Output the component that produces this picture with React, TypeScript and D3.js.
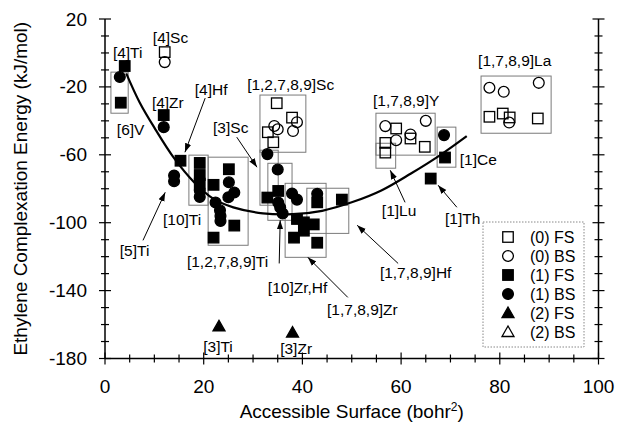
import React from "react";
import * as d3 from "d3";

type P = [number, number];

// (0) FS – open squares
const openSquares: P[] = [
  [12.1, 0.5],
  [34.8, -29.6], [37.9, -38.1], [33, -46.7], [34.1, -52.6],
  [59, -44.5], [61.9, -50.4], [64.8, -55.3], [56.8, -53], [56.8, -58.7],
  [77.9, -37.6], [80.6, -35.7], [87.7, -38.6], [82, -38],
];
// (0) BS – open circles
const openCircles: P[] = [
  [12.1, -5.4],
  [34.3, -43], [35, -45], [38.9, -40.8], [38.1, -46],
  [56.8, -43.1], [65, -40], [59, -51.4], [61.9, -48],
  [77.9, -20.5], [80.8, -22.9], [87.9, -17.6], [81.9, -41],
];
// (1) FS – filled squares
const filledSquares: P[] = [
  [4, -7.7], [3.2, -29.3], [11.9, -36.6], [15.3, -63.5],
  [19.2, -64.8], [19.2, -71.9], [19.2, -77],
  [25.1, -68.5], [22, -77.7], [26.2, -101.7], [22, -108.8],
  [32.9, -85.2], [35.1, -81.3],
  [38.9, -97.8], [40.3, -99.8], [42.3, -101], [40.3, -104.7], [38.3, -108.8], [43, -111.8],
  [43, -88], [48, -86.4],
  [68.9, -61.6], [66, -74],
];
// (1) BS – filled circles
const filledCircles: P[] = [
  [3, -14.2], [11.9, -43.7], [14, -72.2], [14, -75.6],
  [19.2, -80.9], [19.2, -84.8],
  [25.1, -76.2], [26.2, -82.2], [25, -85], [22.4, -88.1], [23.3, -92.7], [23.4, -96], [23.4, -99],
  [32.9, -59.6], [35, -68.7],
  [35.1, -88.1], [36, -94.6], [35.5, -91], [37.9, -82.8], [38.9, -86.4],
  [43, -83], [68.7, -48.4],
];
// (2) FS – filled triangles
const filledTriangles: P[] = [[23.1, -161.1], [38, -164.7]];

// fitted trend line
const trend: P[] = [
  [4.3, -12], [7, -29], [10, -44], [14, -62], [18, -76], [22, -86], [26, -91],
  [32, -94.5], [38, -95], [44, -93], [50, -88], [56, -81], [62, -71], [68, -60], [73.3, -49],
];

// group boxes: [x0, x1, yTop, yBottom]
const boxes: [number, number, number, number][] = [
  [1.2, 4.7, -11.3, -35.5],
  [17, 20.9, -60.2, -89.7],
  [20.9, 29, -61.4, -113.3],
  [31.4, 40.7, -24.8, -58.5],
  [31.4, 35.1, -57.3, -89.7],
  [33, 37.9, -65, -98.6],
  [36.5, 44.8, -76.8, -120.4],
  [40.9, 49.4, -79.7, -106.3],
  [54.9, 66.9, -35.5, -60.2],
  [54.9, 58.9, -53.2, -67.9],
  [67.3, 71.1, -43.7, -67.3],
  [76.2, 90.4, -13.6, -47.3],
];

const labels: { t: string; at: P }[] = [
  { t: "[4]Sc", at: [9.7, 5.8] },
  { t: "[4]Ti", at: [1.6, -3.0] },
  { t: "[6]V", at: [2.4, -48.4] },
  { t: "[4]Zr", at: [9.5, -32.5] },
  { t: "[4]Hf", at: [18.2, -24.8] },
  { t: "[3]Sc", at: [21.9, -47.3] },
  { t: "[1,2,7,8,9]Sc", at: [28.8, -21.9] },
  { t: "[1,7,8,9]Y", at: [54.3, -31.3] },
  { t: "[1,7,8,9]La", at: [75.6, -7.7] },
  { t: "[1]Ce", at: [71.9, -66.1] },
  { t: "[1]Lu", at: [56.1, -96.2] },
  { t: "[1]Th", at: [68.9, -100.9] },
  { t: "[1,7,8,9]Hf", at: [55.7, -132.8] },
  { t: "[1,7,8,9]Zr", at: [45, -154.6] },
  { t: "[10]Zr,Hf", at: [33, -141.7] },
  { t: "[1,2,7,8,9]Ti", at: [16.6, -126.3] },
  { t: "[10]Ti", at: [11.75, -101.5] },
  { t: "[5]Ti", at: [3, -119.8] },
  { t: "[3]Ti", at: [19.9, -175.9] },
  { t: "[3]Zr", at: [35.5, -177.6] },
];

// arrows: [from, to]
const arrows: [P, P][] = [
  [[20.3, -26.6], [16.2, -58.5]],
  [[26.7, -49.6], [30.8, -67.3]],
  [[7.7, -110.4], [12.2, -82.1]],
  [[35.3, -124], [35.5, -98.6]],
  [[49.2, -144], [41.1, -120.4]],
  [[59.4, -124], [51.1, -101.5]],
  [[60.8, -88], [57.8, -69.1]],
  [[71.3, -90.9], [67.5, -77.9]],
];

const legendItems = ["(0) FS", "(0) BS", "(1) FS", "(1) BS", "(2) FS", "(2) BS"];
const xTickLabels = [0, 20, 40, 60, 80, 100];
const yTickLabels = [20, -20, -60, -100, -140, -180];

const W = 619, H = 424;
const FONT = "'Liberation Sans', Arial, Helvetica, sans-serif";

function Marker({ kind, cx, cy }: { kind: number; cx: number; cy: number }) {
  const s = 10.5, r = 5.4;
  const filled = kind === 2 || kind === 3 || kind === 4;
  const fill = filled ? "#000" : "none";
  const sw = 1.3;
  if (kind === 0 || kind === 2)
    return <rect x={cx - s / 2} y={cy - s / 2} width={s} height={s} fill={fill} stroke="#000" strokeWidth={sw} />;
  if (kind === 1 || kind === 3)
    return <circle cx={cx} cy={cy} r={r} fill={fill} stroke="#000" strokeWidth={sw} />;
  const t = 6;
  return <path d={`M${cx},${cy - t}L${cx + t},${cy + t * 0.75}L${cx - t},${cy + t * 0.75}Z`} fill={fill} stroke="#000" strokeWidth={sw} />;
}

export default function App() {
  const x = d3.scaleLinear().domain([0, 100]).range([105, 598.5]);
  const y = d3.scaleLinear().domain([-180, 20]).range([358.5, 19]);
  const line = d3.line<P>().x(d => x(d[0])).y(d => y(d[1])).curve(d3.curveCatmullRom.alpha(0.5));
  const x0 = x(0), x1 = x(100), y0 = y(-180), y1 = y(20);

  const yMinor = d3.range(-180, 21, 10);
  const xMinor = d3.range(0, 101, 5);

  return (
    <svg width={W} height={H} viewBox={`0 0 ${W} ${H}`} style={{ position: "absolute", left: 0, top: 0, background: "#fff", fontFamily: FONT }}>
      <defs>
        <marker id="ah" viewBox="0 0 10 10" refX="10" refY="5" markerWidth="9" markerHeight="9" markerUnits="userSpaceOnUse" orient="auto">
          <path d="M0,1.5L10,5L0,8.5Z" fill="#000" />
        </marker>
      </defs>

      {boxes.map((b, i) => (
        <rect key={i} x={x(b[0])} y={y(b[2])} width={x(b[1]) - x(b[0])} height={y(b[3]) - y(b[2])} fill="none" stroke="#7a7a7a" strokeWidth={1} />
      ))}

      <path d={line(trend) || ""} fill="none" stroke="#000" strokeWidth={2.2} />

      {openSquares.map((d, i) => <Marker key={"os" + i} kind={0} cx={x(d[0])} cy={y(d[1])} />)}
      {openCircles.map((d, i) => <Marker key={"oc" + i} kind={1} cx={x(d[0])} cy={y(d[1])} />)}
      {filledSquares.map((d, i) => <Marker key={"fs" + i} kind={2} cx={x(d[0])} cy={y(d[1])} />)}
      {filledCircles.map((d, i) => <Marker key={"fc" + i} kind={3} cx={x(d[0])} cy={y(d[1])} />)}
      {filledTriangles.map((d, i) => <Marker key={"ft" + i} kind={4} cx={x(d[0])} cy={y(d[1])} />)}

      {arrows.map((a, i) => (
        <line key={i} x1={x(a[0][0])} y1={y(a[0][1])} x2={x(a[1][0])} y2={y(a[1][1])} stroke="#000" strokeWidth={1} markerEnd="url(#ah)" />
      ))}

      {labels.map((l, i) => (
        <text key={i} x={x(l.at[0])} y={y(l.at[1])} fontSize={15.5} fill="#000">{l.t}</text>
      ))}

      {/* axes */}
      <line x1={x0} x2={x0} y1={y1} y2={y0} stroke="#000" strokeWidth={1.5} />
      <line x1={x1} x2={x1} y1={y1} y2={y0} stroke="#000" strokeWidth={1.5} />
      <line x1={x0} x2={x1} y1={y0} y2={y0} stroke="#000" strokeWidth={1.5} />
      {yMinor.map(t => {
        const L = yTickLabels.includes(t) ? 6 : 4;
        return (
          <g key={"yt" + t}>
            <line x1={x0 - L} x2={x0 + L} y1={y(t)} y2={y(t)} stroke="#000" strokeWidth={1.2} />
            <line x1={x1 - L} x2={x1 + L} y1={y(t)} y2={y(t)} stroke="#000" strokeWidth={1.2} />
          </g>
        );
      })}
      {xMinor.map(t => {
        const L = xTickLabels.includes(t) ? 6 : 4;
        return <line key={"xt" + t} x1={x(t)} x2={x(t)} y1={y0 - L} y2={y0 + L} stroke="#000" strokeWidth={1.2} />;
      })}
      {yTickLabels.map(t => (
        <text key={"yl" + t} x={87} y={y(t) + 6.5} textAnchor="end" fontSize={19}>{t}</text>
      ))}
      {xTickLabels.map(t => (
        <text key={"xl" + t} x={x(t)} y={393} textAnchor="middle" fontSize={19}>{t}</text>
      ))}
      <text x={(x0 + x1) / 2} y={418} textAnchor="middle" fontSize={19}>
        Accessible Surface (bohr<tspan dy={-7} fontSize={12}>2</tspan><tspan dy={7}>)</tspan>
      </text>
      <text transform={`translate(27 ${(y0 + y1) / 2}) rotate(-90)`} textAnchor="middle" fontSize={19}>
        Ethylene Complexation Energy (kJ/mol)
      </text>

      {/* legend */}
      <rect x={483} y={222} width={101} height={125} fill="#fff" stroke="#888" strokeWidth={1} strokeDasharray="1.5 1.5" />
      {legendItems.map((t, i) => (
        <g key={t}>
          <Marker kind={i === 5 ? 5 : i} cx={508} cy={237 + i * 19} />
          <text x={530} y={237 + i * 19 + 6} fontSize={16}>{t}</text>
        </g>
      ))}
    </svg>
  );
}
